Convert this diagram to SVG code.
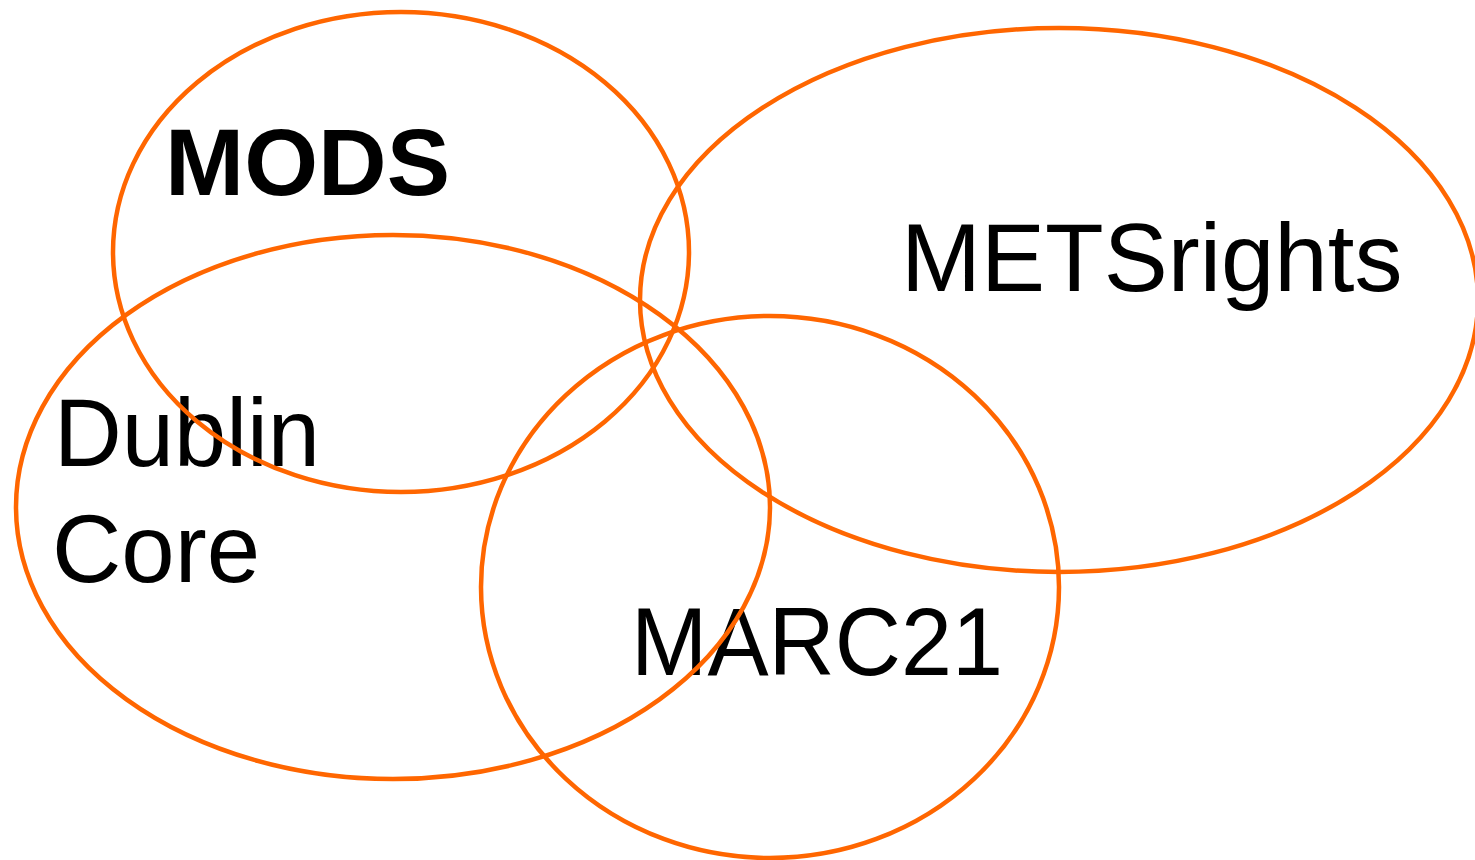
<svg xmlns="http://www.w3.org/2000/svg" width="1475" height="860" viewBox="0 0 1475 860">
<style>
.set{fill:none;stroke:#FF6600;stroke-width:4.5}
.lbl{font-family:"Liberation Sans",Arial,sans-serif;font-size:96px;fill:#000}
.bold{font-weight:bold;font-size:95px}
</style>
<rect width="1475" height="860" fill="#fff"/>
<g id="marc21">
<text class="lbl" x="631" y="675" textLength="372" lengthAdjust="spacingAndGlyphs">MARC21</text>
<ellipse class="set" cx="770" cy="587" rx="289" ry="271"/>
</g>
<g id="dublin-core">
<text class="lbl" x="54" y="466" textLength="266" lengthAdjust="spacingAndGlyphs">Dublin</text>
<text class="lbl" x="52" y="582">Core</text>
<ellipse class="set" cx="393" cy="507" rx="377" ry="272"/>
</g>
<g id="mods">
<ellipse class="set" cx="401" cy="252" rx="288" ry="240"/>
<text class="lbl bold" x="165" y="195">MODS</text>
</g>
<g id="metsrights">
<ellipse class="set" cx="1059" cy="300" rx="419" ry="272"/>
<text class="lbl" x="901" y="291">METSrights</text>
</g>
<g id="connectors"/>
</svg>
